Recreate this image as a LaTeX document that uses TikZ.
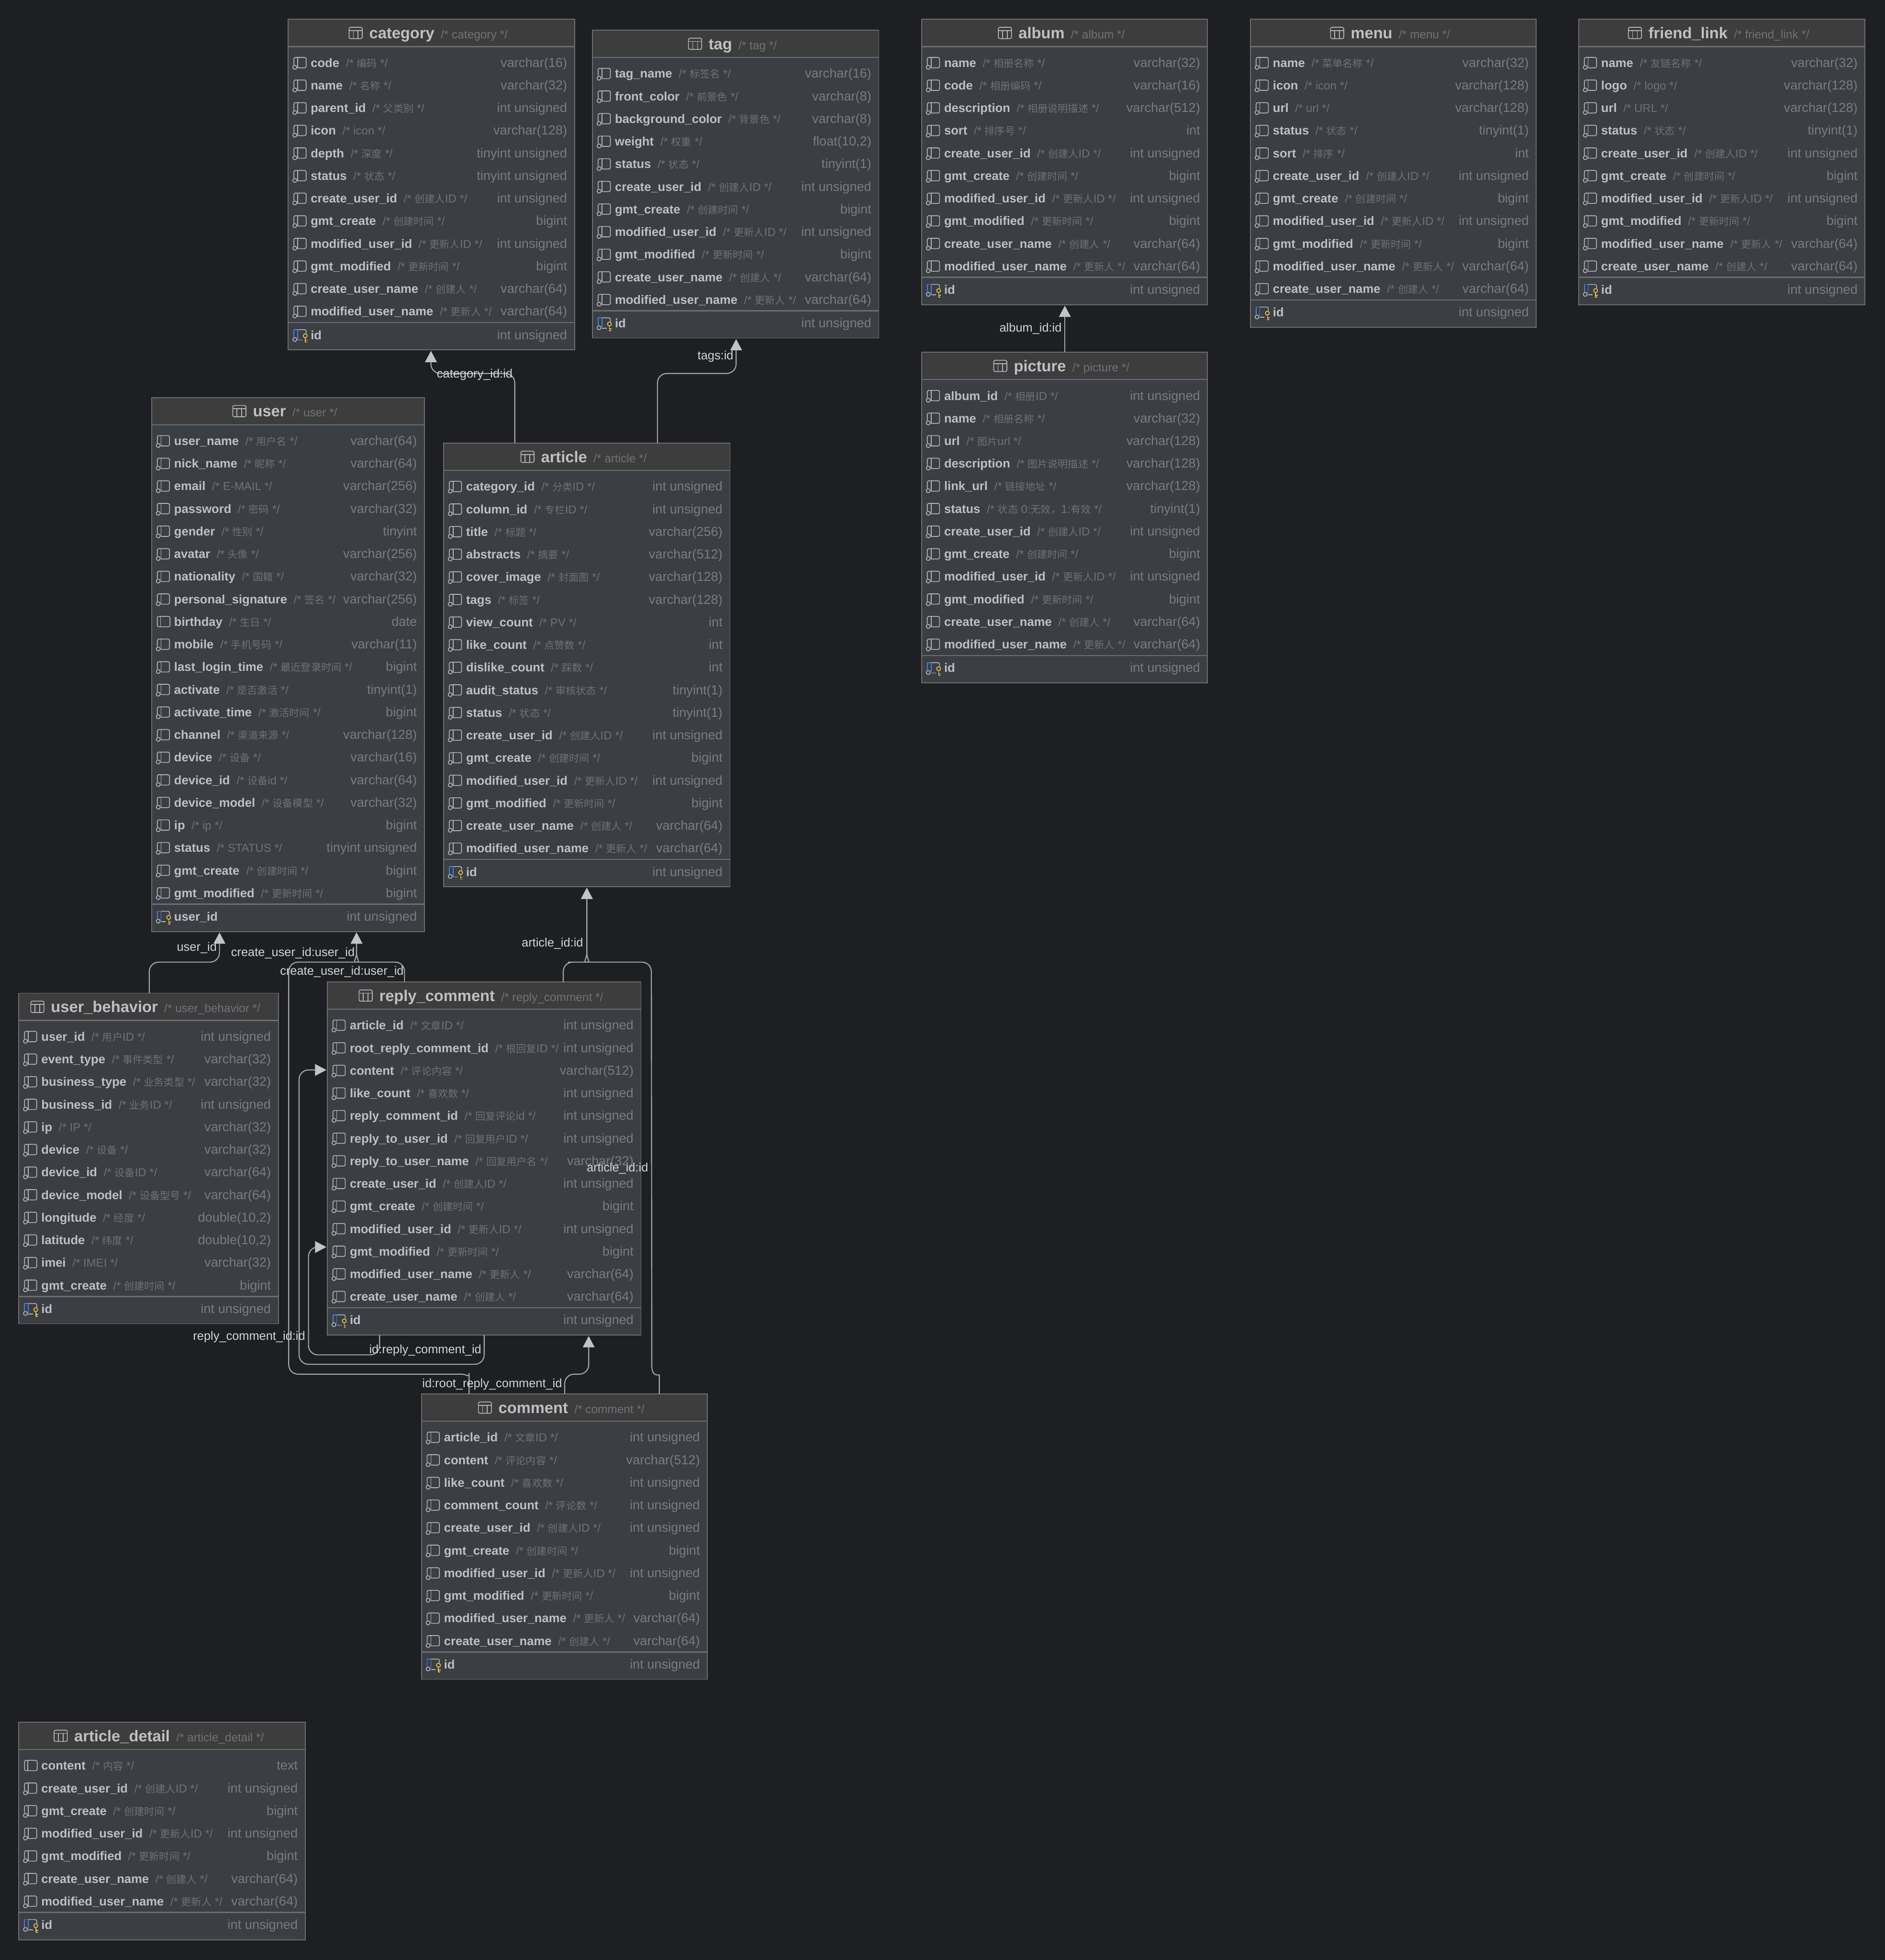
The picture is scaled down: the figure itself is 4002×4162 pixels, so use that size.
\documentclass[tikz,border=0pt]{standalone}
\usepackage{fontspec}
\setmainfont{Liberation Sans}
\newfontfamily\cjkf[Scale=0.88]{Noto Sans CJK SC}
\usetikzlibrary{arrows.meta,calc}
\AtBeginDocument{\catcode`\_=12 }
% CJK characters switch to the CJK family by themselves
\newXeTeXintercharclass\cjkcls
\newcount\cjkcnt
\cjkcnt="4E00
\loop\ifnum\cjkcnt<"A000
  \XeTeXcharclass\cjkcnt=\cjkcls
  \advance\cjkcnt by 1
\repeat
\XeTeXcharclass"FF0C=\cjkcls
\XeTeXinterchartoks 0 \cjkcls={\begingroup\cjkf}
\XeTeXinterchartoks 4095 \cjkcls={\begingroup\cjkf}
\XeTeXinterchartoks \cjkcls 0={\endgroup}
\XeTeXinterchartoks \cjkcls 4095={\endgroup}
\definecolor{bgc}{HTML}{1E1F22}
\definecolor{bodyc}{HTML}{3B3E42}
\definecolor{headc}{HTML}{3D3D3D}
\definecolor{edgec}{HTML}{6C6E70}
\definecolor{namec}{HTML}{BEC0C4}
\definecolor{cmtc}{HTML}{6F7277}
\definecolor{typec}{HTML}{797C81}
\definecolor{icoc}{HTML}{B4B6BA}
\definecolor{bluec}{HTML}{4C7FE6}
\definecolor{keyc}{HTML}{EDC45A}
\definecolor{linec}{HTML}{A6A7A9}
\definecolor{tipc}{HTML}{C2C3C4}
\definecolor{labc}{HTML}{D4D5D6}
\newcommand{\fnt}[1]{\fontsize{#1pt}{#1pt}\selectfont}
\tikzset{
  tablebody/.style={draw=edgec,fill=bodyc,line width=.45pt,inner sep=0pt,outer sep=0pt},
  sepline/.style={draw=edgec,line width=.6pt},
  rowname/.style={anchor=base west,inner sep=0pt,text=namec,font=\fnt{6.5}},
  rowtype/.style={anchor=base east,inner sep=0pt,text=typec,font=\fnt{6.9}},
  headname/.style={anchor=base,inner sep=0pt,text=namec,font=\fnt{8.3}},
  ico/.style={draw=icoc,line width=.42pt,line join=round},
  conn/.style={draw=linec,line width=.55pt,rounded corners=5pt,
    -{Triangle[length=6pt,width=6.2pt,color=tipc]}},
  linklabel/.style={inner sep=0pt,text=labc,font=\fnt{6.45}},
}
\XeTeXinterchartokenstate=1
\newcommand{\colicon}{%
  \draw[ico,rounded corners=.8pt] (12,5) -- (12,-11) -- (38,-11) -- (38,11) -- (20,11);
  \draw[ico] (20,-11) -- (20,11);
  \draw[ico] (14,10) circle[radius=4.2];}
\newcommand{\plainicon}{%
  \draw[ico,rounded corners=.8pt] (12,-11) rectangle (39,11);
  \draw[ico] (19,-11) -- (19,11);}
\newcommand{\pkicon}{%
  \draw[ico,rounded corners=.8pt] (20,-11) -- (38,-11) -- (38,-3);
  \draw[ico] (20,11) -- (30,11);
  \draw[ico] (14,10) circle[radius=4.2];
  \draw[ico,draw=bluec] (12,5) -- (12,-11) -- (20,-11) -- (20,9);
  \draw[ico,draw=keyc] (36,2) circle[radius=4.2];
  \draw[ico,draw=keyc] (36,6) -- (36,16) (36,12) -- (41,12) (36,16) -- (40,16);}
\newcommand{\tabicon}{%
  \draw[ico,rounded corners=.8pt] (-42,17) rectangle (-14,41);
  \draw[ico] (-42,24) -- (-14,24) (-33,24) -- (-33,41) (-23,24) -- (-23,41);}
\def\plainrow{}
% #1 id, #2 title, #3 left, #4 top, #5 right, #6 row count, #7 rows, #8 key column
\newcommand{\dbtable}[8]{%
  \pgfmathsetmacro\tB{#4+126+48*#6}%
  \pgfmathsetmacro\tW{(#5-#3)*.25}%
  \pgfmathsetmacro\tH{(\tB-#4)*.25}%
  \pgfmathsetmacro\tCx{(#5+#3)/2}%
  \pgfmathsetmacro\tCy{(\tB+#4)/2}%
  \node[tablebody,minimum width=\tW pt,minimum height=\tH pt] (#1) at (\tCx,\tCy) {};
  \filldraw[fill=headc,draw=edgec,line width=.45pt] (#3,#4) rectangle (#5,{#4+58});
  \draw[sepline] (#3,{#4+58}) -- (#5,{#4+58});
  \node[headname] (#1-h) at ({\tCx+15},{#4+41}) {\textbf{#2}\hspace{3.4pt}\textcolor{cmtc}{\fnt{6.2}/* #2 */}};
  \begin{scope}[shift={(#1-h.west |- 0,#4)}]\tabicon\end{scope}
  \foreach \nm/\cm/\ty [count=\i] in {#7}{%
    \pgfmathsetmacro\cy{#4+92+48*(\i-1)}%
    \node[rowname] (#1-\i) at ({#3+47},{\cy+9.5}) {\textbf{\nm}\hspace{3.5pt}\textcolor{cmtc}{\fnt{6.1}/* \cm{} */}};
    \node[rowtype] (#1-\i-t) at ({#5-15},{\cy+9.5}) {\ty};
    \begin{scope}[shift={(#3,\cy)}]\ifx\nm\plainrow\plainicon\else\colicon\fi\end{scope}
  }
  \pgfmathsetmacro\cy{#4+92+48*(#6-1)}%
  \draw[sepline] (#3,{\cy+24}) -- (#5,{\cy+24});
  \node[rowname] (#1-k) at ({#3+47},{\cy+59.5}) {\textbf{#8}};
  \node[rowtype] (#1-k-t) at ({#5-15},{\cy+59.5}) {int unsigned};
  \begin{scope}[shift={(#3,\cy+50)}]\pkicon\end{scope}
}
\begin{document}
\begin{tikzpicture}[x=.25pt,y=-.25pt]
\fill[bgc] (0,0) rectangle (4002,4162);
\useasboundingbox (0,0) rectangle (4002,4162);

\dbtable{category}{category}{612}{41}{1220}{12}{code/编码/varchar(16),name/名称/varchar(32),parent_id/父类别/int unsigned,icon/icon/varchar(128),depth/深度/tinyint unsigned,status/状态/tinyint unsigned,create_user_id/创建人ID/int unsigned,gmt_create/创建时间/bigint,modified_user_id/更新人ID/int unsigned,gmt_modified/更新时间/bigint,create_user_name/创建人/varchar(64),modified_user_name/更新人/varchar(64)}{id}

\dbtable{tag}{tag}{1258}{64}{1866}{11}{tag_name/标签名/varchar(16),front_color/前景色/varchar(8),background_color/背景色/varchar(8),weight/权重/{float(10,2)},status/状态/tinyint(1),create_user_id/创建人ID/int unsigned,gmt_create/创建时间/bigint,modified_user_id/更新人ID/int unsigned,gmt_modified/更新时间/bigint,create_user_name/创建人/varchar(64),modified_user_name/更新人/varchar(64)}{id}

\dbtable{album}{album}{1957}{41}{2564}{10}{name/相册名称/varchar(32),code/相册编码/varchar(16),description/相册说明描述/varchar(512),sort/排序号/int,create_user_id/创建人ID/int unsigned,gmt_create/创建时间/bigint,modified_user_id/更新人ID/int unsigned,gmt_modified/更新时间/bigint,create_user_name/创建人/varchar(64),modified_user_name/更新人/varchar(64)}{id}

\dbtable{picture}{picture}{1957}{748}{2564}{12}{album_id/相册ID/int unsigned,name/相册名称/varchar(32),url/图片url/varchar(128),description/图片说明描述/varchar(128),link_url/链接地址/varchar(128),status/状态 0:无效，1:有效/tinyint(1),create_user_id/创建人ID/int unsigned,gmt_create/创建时间/bigint,modified_user_id/更新人ID/int unsigned,gmt_modified/更新时间/bigint,create_user_name/创建人/varchar(64),modified_user_name/更新人/varchar(64)}{id}

\dbtable{menu}{menu}{2655}{41}{3262}{11}{name/菜单名称/varchar(32),icon/icon/varchar(128),url/url/varchar(128),status/状态/tinyint(1),sort/排序/int,create_user_id/创建人ID/int unsigned,gmt_create/创建时间/bigint,modified_user_id/更新人ID/int unsigned,gmt_modified/更新时间/bigint,modified_user_name/更新人/varchar(64),create_user_name/创建人/varchar(64)}{id}

\dbtable{friend_link}{friend_link}{3352}{41}{3960}{10}{name/友链名称/varchar(32),logo/logo/varchar(128),url/URL/varchar(128),status/状态/tinyint(1),create_user_id/创建人ID/int unsigned,gmt_create/创建时间/bigint,modified_user_id/更新人ID/int unsigned,gmt_modified/更新时间/bigint,modified_user_name/更新人/varchar(64),create_user_name/创建人/varchar(64)}{id}

\def\plainrow{birthday}
\dbtable{user}{user}{322}{844}{901}{21}{user_name/用户名/varchar(64),nick_name/昵称/varchar(64),email/E-MAIL/varchar(256),password/密码/varchar(32),gender/性别/tinyint,avatar/头像/varchar(256),nationality/国籍/varchar(32),personal_signature/签名/varchar(256),birthday/生日/date,mobile/手机号码/varchar(11),last_login_time/最近登录时间/bigint,activate/是否激活/tinyint(1),activate_time/激活时间/bigint,channel/渠道来源/varchar(128),device/设备/varchar(16),device_id/设备id/varchar(64),device_model/设备模型/varchar(32),ip/ip/bigint,status/STATUS/tinyint unsigned,gmt_create/创建时间/bigint,gmt_modified/更新时间/bigint}{user_id}
\def\plainrow{}

\dbtable{article}{article}{942}{941}{1550}{17}{category_id/分类ID/int unsigned,column_id/专栏ID/int unsigned,title/标题/varchar(256),abstracts/摘要/varchar(512),cover_image/封面图/varchar(128),tags/标签/varchar(128),view_count/PV/int,like_count/点赞数/int,dislike_count/踩数/int,audit_status/审核状态/tinyint(1),status/状态/tinyint(1),create_user_id/创建人ID/int unsigned,gmt_create/创建时间/bigint,modified_user_id/更新人ID/int unsigned,gmt_modified/更新时间/bigint,create_user_name/创建人/varchar(64),modified_user_name/更新人/varchar(64)}{id}

\dbtable{user_behavior}{user_behavior}{40}{2109}{591}{12}{user_id/用户ID/int unsigned,event_type/事件类型/varchar(32),business_type/业务类型/varchar(32),business_id/业务ID/int unsigned,ip/IP/varchar(32),device/设备/varchar(32),device_id/设备ID/varchar(64),device_model/设备型号/varchar(64),longitude/经度/{double(10,2)},latitude/纬度/{double(10,2)},imei/IMEI/varchar(32),gmt_create/创建时间/bigint}{id}

\dbtable{reply}{reply_comment}{695}{2085}{1361}{13}{article_id/文章ID/int unsigned,root_reply_comment_id/根回复ID/int unsigned,content/评论内容/varchar(512),like_count/喜欢数/int unsigned,reply_comment_id/回复评论id/int unsigned,reply_to_user_id/回复用户ID/int unsigned,reply_to_user_name/回复用户名/varchar(32),create_user_id/创建人ID/int unsigned,gmt_create/创建时间/bigint,modified_user_id/更新人ID/int unsigned,gmt_modified/更新时间/bigint,modified_user_name/更新人/varchar(64),create_user_name/创建人/varchar(64)}{id}

\dbtable{comment}{comment}{895}{2960}{1502}{10}{article_id/文章ID/int unsigned,content/评论内容/varchar(512),like_count/喜欢数/int unsigned,comment_count/评论数/int unsigned,create_user_id/创建人ID/int unsigned,gmt_create/创建时间/bigint,modified_user_id/更新人ID/int unsigned,gmt_modified/更新时间/bigint,modified_user_name/更新人/varchar(64),create_user_name/创建人/varchar(64)}{id}

\def\plainrow{content}
\dbtable{article_detail}{article_detail}{40}{3657}{648}{7}{content/内容/text,create_user_id/创建人ID/int unsigned,gmt_create/创建时间/bigint,modified_user_id/更新人ID/int unsigned,gmt_modified/更新时间/bigint,create_user_name/创建人/varchar(64),modified_user_name/更新人/varchar(64)}{id}
\def\plainrow{}

% connector ends
\coordinate (artCat) at ($(article.north west)+(151,0)$);
\coordinate (catIn)  at ($(category.south west)+(303,2)$);
\coordinate (artTag) at ($(article.north west)+(454,0)$);
\coordinate (tagIn)  at ($(tag.south west)+(305,2)$);
\coordinate (picAlb) at ($(picture.north west)+(304,0)$);
\coordinate (albIn)  at ($(album.south west)+(304,2)$);
\coordinate (behUsr) at ($(user_behavior.north west)+(277,0)$);
\coordinate (usrInA) at ($(user.south west)+(144,2)$);
\coordinate (repUsr) at ($(reply.north west)+(164,0)$);
\coordinate (comUsr) at ($(comment.north west)+(101,0)$);
\coordinate (usrInB) at ($(user.south west)+(435,2)$);
\coordinate (repArt) at ($(reply.north west)+(501,0)$);
\coordinate (comArt) at ($(comment.north west)+(505,0)$);
\coordinate (artIn)  at ($(article.south west)+(304,2)$);
\coordinate (comRep) at ($(comment.north west)+(304,0)$);
\coordinate (repIn)  at ($(reply.south west)+(555,2)$);
\coordinate (selfAs) at ($(reply.south west)+(333,0)$);
\coordinate (selfAt) at ($(reply.north west)+(-2,187)$);
\coordinate (selfBs) at ($(reply.south west)+(111,0)$);
\coordinate (selfBt) at ($(reply.north west)+(-2,563)$);

\draw[conn] (artCat) -- (artCat |- 0,793) -- (catIn |- 0,793) -- (catIn);
\draw[conn] (artTag) -- (artTag |- 0,793) -- (tagIn |- 0,793) -- (tagIn);
\draw[conn] (picAlb) -- (albIn);
\draw[conn] (behUsr) -- (behUsr |- 0,2043) -- (usrInA |- 0,2043) -- (usrInA);
\draw[conn] (repUsr) -- (repUsr |- 0,2043) -- (777,2043) [sharp corners] .. controls (766,2043) and (757,2038) .. (757,2022) -- (usrInB);
\draw[conn] (comUsr) -- (comUsr |- 0,2936) [sharp corners] .. controls (996,2926) and (990,2918) .. (980,2918) [rounded corners=5pt] -- (613,2918) -- (613,2043) -- (737,2043) [sharp corners] .. controls (748,2043) and (757,2038) .. (757,2022) -- (usrInB);
\draw[conn] (repArt) -- (repArt |- 0,2043) -- (1226,2043) [sharp corners] .. controls (1237,2043) and (1246,2038) .. (1246,2022) -- (artIn);
\draw[conn] (comArt) -- (comArt |- 0,2940) [sharp corners] .. controls (1400,2918) and (1384,2926) .. (1384,2900) [rounded corners=5pt] -- (1383,2043) -- (1266,2043) [sharp corners] .. controls (1255,2043) and (1246,2038) .. (1246,2022) -- (artIn);
\draw[conn] (comRep) -- (comRep |- 0,2918) -- (repIn |- 0,2918) -- (repIn);
\draw[conn] (selfAs) -- (selfAs |- 0,2897) -- (635,2897) -- (635,2272) -- (selfAt);
\draw[conn] (selfBs) -- (selfBs |- 0,2877) -- (655,2877) -- (655,2648) -- (selfBt);

\node[linklabel] (l1) at (1008,796) {category_id:id};
\node[linklabel,anchor=east] (l2) at (1558,757) {tags:id};
\node[linklabel,anchor=east] (l3) at (2255,698) {album_id:id};
\node[linklabel,anchor=east] (l4) at (461,2013) {user_id};
\node[linklabel,anchor=east] (l5) at (754,2024) {create_user_id:user_id};
\node[linklabel] (l6) at (726,2064) {create_user_id:user_id};
\node[linklabel,anchor=east] (l7) at (1239,2004) {article_id:id};
\node[linklabel] (l8) at (1311,2481) {article_id:id};
\node[linklabel] (l9) at (529,2839) {reply_comment_id:id};
\node[linklabel] (l10) at (903,2867) {id:reply_comment_id};
\node[linklabel] (l11) at (1045,2940) {id:root_reply_comment_id};
\end{tikzpicture}
\end{document}
